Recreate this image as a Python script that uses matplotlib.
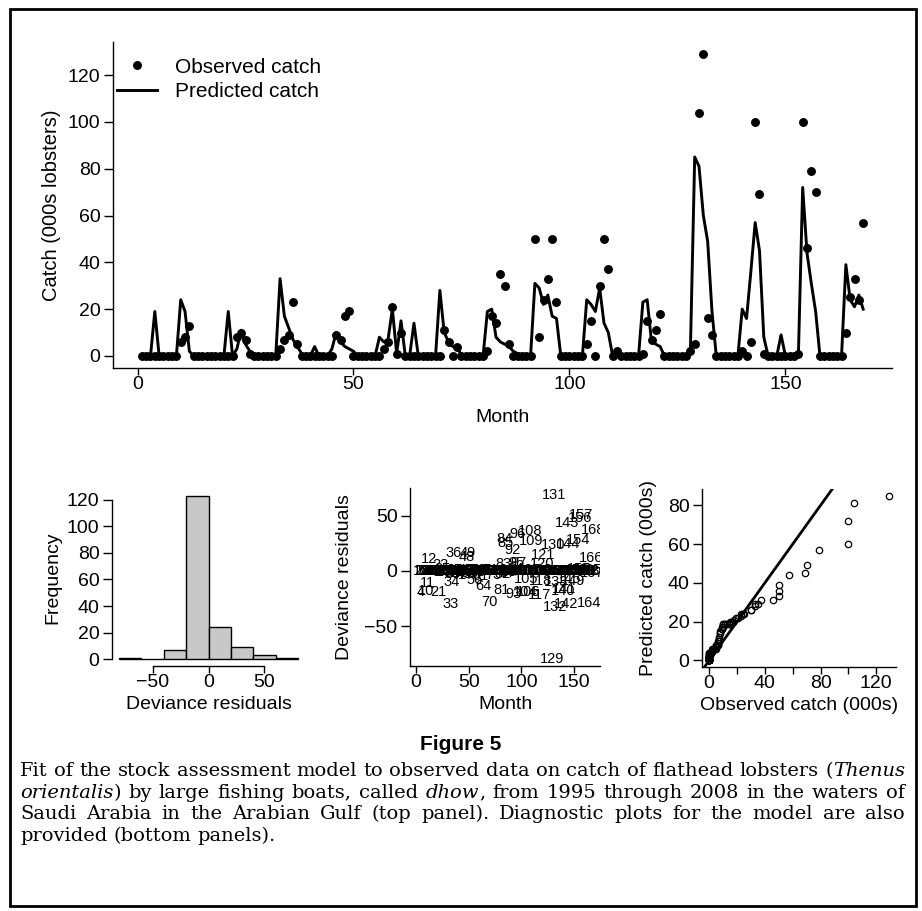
import numpy as np
import pandas as pd
import matplotlib
matplotlib.use('Agg')
import matplotlib.pyplot as plt
from matplotlib.lines import Line2D
from matplotlib.patches import Rectangle

plt.rcParams['font.family'] = ['Liberation Sans', 'DejaVu Sans']

W, H = 922, 911

# monthly catch (000s lobsters), 1995-2008, one row per year
obs_catch = [
    0, 0, 0, 0, 0, 0, 0, 0, 0, 6, 8, 13,
    0, 0, 0, 0, 0, 0, 0, 0, 0, 0, 8, 10,
    7, 1, 0, 0, 0, 0, 0, 0, 3, 7, 9, 23,
    5, 0, 0, 0, 0, 0, 0, 0, 0, 9, 7, 17,
    19, 0, 0, 0, 0, 0, 0, 0, 3, 6, 21, 1,
    10, 0, 0, 0, 0, 0, 0, 0, 0, 0, 11, 6,
    0, 4, 0, 0, 0, 0, 0, 0, 2, 17, 14, 35,
    30, 5, 0, 0, 0, 0, 0, 50, 8, 24, 33, 50,
    23, 0, 0, 0, 0, 0, 0, 5, 15, 0, 30, 50,
    37, 0, 2, 0, 0, 0, 0, 0, 1, 15, 7, 11,
    18, 0, 0, 0, 0, 0, 0, 2, 5, 104, 129, 16,
    9, 0, 0, 0, 0, 0, 0, 2, 0, 6, 100, 69,
    1, 0, 0, 0, 0, 0, 0, 0, 1, 100, 46, 79,
    70, 0, 0, 0, 0, 0, 0, 10, 25, 33, 24, 57,
]
pred_catch = [
    0, 0, 0, 19, 0, 0, 0, 0, 0, 24, 19, 2,
    0, 0, 0, 0, 0, 0, 0, 0, 19, 0, 3, 11,
    5, 2, 0, 0, 0, 0, 0, 0, 33, 17, 12, 7,
    4, 1, 0, 0, 4, 0, 0, 0, 3, 10, 6, 4,
    3, 2, 0, 0, 0, 0, 0, 8, 6, 7, 20, 1,
    15, 0, 0, 14, 0, 0, 0, 0, 0, 28, 10, 6,
    4, 4, 0, 0, 0, 0, 0, 0, 19, 20, 8, 6,
    5, 4, 2, 1, 0, 0, 0, 31, 29, 22, 26, 17,
    16, 0, 0, 0, 0, 0, 0, 24, 22, 19, 29, 14,
    10, 0, 2, 0, 0, 0, 0, 0, 23, 24, 6, 5,
    4, 0, 0, 0, 0, 0, 0, 2, 85, 81, 60, 49,
    19, 0, 0, 0, 0, 0, 0, 20, 16, 36, 57, 45,
    8, 0, 0, 0, 9, 0, 0, 0, 0, 72, 44, 31,
    19, 0, 0, 0, 0, 0, 0, 39, 24, 21, 26, 20,
]
months = np.arange(1, len(obs_catch) + 1)
hist_breaks = [-80, -60, -40, -20, 0, 20, 40, 60, 80]

obs = np.array(obs_catch, dtype=float)
pred = np.array(pred_catch, dtype=float)
resid = obs - pred

caption_lines = [
    "Fit of the stock assessment model to observed data on catch of flathead lobsters (*Thenus*",
    "*orientalis*) by large fishing boats, called *dhow*, from 1995 through 2008 in the waters of",
    "Saudi Arabia in the Arabian Gulf (top panel). Diagnostic plots for the model are also",
    "provided (bottom panels).",
]

FS = 14


def padded(lo, hi):
    d = 0.04 * (hi - lo)
    return lo - d, hi + d


def add_ax(l, t, r, b):
    return fig.add_axes([l / W, 1 - b / H, (r - l) / W, (b - t) / H])


def r_style(ax):
    for s in ['top', 'right']:
        ax.spines[s].set_visible(False)
    for s in ['left', 'bottom']:
        ax.spines[s].set_linewidth(1.0)
    ax.tick_params(direction='out', width=1.0, labelsize=FS)
    ax.tick_params(axis='y', length=6.5, pad=2.5)
    ax.tick_params(axis='x', length=5, pad=0.5)
    ax.patch.set_visible(False)


fig = plt.figure(figsize=(W / 100, H / 100), dpi=100)

# ---- top panel: observed and predicted catch
ax = add_ax(113, 42, 892, 368)
ax.plot(months, pred, '-', color='k', lw=2.1, zorder=2)
ax.plot(months, obs, 'o', color='k', ms=5.4, zorder=3)
ax.set_xlim(padded(months.min(), months.max()))
ax.set_ylim(padded(0, obs.max()))
ax.set_xticks([0, 50, 100, 150])
ax.set_yticks(np.arange(0, 121, 20))
r_style(ax)
ax.set_xlabel('Month', fontsize=FS, labelpad=12)
ax.set_ylabel('Catch (000s lobsters)', fontsize=FS + 0.5, labelpad=5)
handles = [Line2D([], [], ls='none', marker='o', color='k', ms=5.4),
           Line2D([], [], ls='-', color='k', lw=2.1)]
ax.legend(handles, ['Observed catch', 'Predicted catch'], loc='upper left',
          bbox_to_anchor=(-0.0105, 0.99), frameon=False, fontsize=15,
          handlelength=1.9, handletextpad=0.86, labelspacing=0.25, borderaxespad=0.2)

# ---- histogram of deviance residuals (right-closed bins)
counts = pd.Series(pd.cut(resid, bins=hist_breaks, right=True,
                          include_lowest=True)).value_counts(sort=False)
edges = np.array(hist_breaks, dtype=float)
ax1 = add_ax(112, 489, 305, 666)
ax1.bar(edges[:-1], counts.values, width=np.diff(edges), align='edge',
        color='#c8c8c8', edgecolor='k', linewidth=1.0)
ax1.set_xlim(padded(edges[0], edges[-1]))
ax1.set_ylim(padded(0, counts.max()))
ax1.set_xticks([-50, 0, 50])
ax1.set_xticklabels(['\u221250', '0', '50'])
ax1.set_yticks(np.arange(0, 121, 20))
r_style(ax1)
ax1.spines['left'].set_bounds(0, 120)
ax1.spines['bottom'].set_bounds(-50, 50)
ax1.set_xlabel('Deviance residuals', fontsize=FS, labelpad=4)
ax1.set_ylabel('Frequency', fontsize=FS, labelpad=4)

# ---- residuals by month, labelled with the month number
ax2 = add_ax(410, 488, 600, 666)
ax2.set_xlim(padded(months.min(), months.max()))
ax2.set_ylim(padded(resid.min(), resid.max()))
for m, r in zip(months, resid):
    ax2.text(m, r, str(m), ha='center', va='center', fontsize=10.5, clip_on=True)
ax2.set_xticks([0, 50, 100, 150])
ax2.set_yticks([-50, 0, 50])
ax2.set_yticklabels(['\u221250', '0', '50'])
r_style(ax2)
ax2.set_xlabel('Month', fontsize=FS, labelpad=4)
ax2.set_ylabel('Deviance residuals', fontsize=FS, labelpad=8.5)

# ---- quantiles of predicted vs observed catch
ax3 = add_ax(702, 489, 896, 667)
ax3.plot(np.sort(obs), np.sort(pred), 'o', mfc='none', mec='k', ms=4.6, mew=0.9)
ax3.set_xlim(padded(0, obs.max()))
ax3.set_ylim(padded(0, pred.max()))
ax3.axline((0, 0), slope=1, color='k', lw=2.0)
ax3.set_xticks(np.arange(0, 121, 20))
ax3.set_xticklabels(['0', '', '40', '', '80', '', '120'])
ax3.set_yticks(np.arange(0, 81, 20))
r_style(ax3)
ax3.set_xlabel('Observed catch (000s)', fontsize=FS, labelpad=4)
ax3.set_ylabel('Predicted catch (000s)', fontsize=FS, labelpad=8)

# ---- figure title and justified caption
fig.text(461 / W, 1 - 744 / H, 'Figure 5', ha='center', va='center',
         fontsize=15, fontweight='bold', family=['Liberation Sans', 'DejaVu Sans'])

cap_family = ['DejaVu Serif']
cap_fs = 14
renderer = fig.canvas.get_renderer()


def text_width(s, style):
    t = fig.text(0, 0, s, fontsize=cap_fs, family=cap_family, style=style)
    w = t.get_window_extent(renderer).width
    t.remove()
    return w


def split_word(word):
    parts = word.split('*')
    out = []
    for i, p in enumerate(parts):
        if p:
            out.append((p, 'italic' if i % 2 == 1 else 'normal'))
    return out


x0, x1 = 20, 905
y0, dy = 776, 21.7
for k, line in enumerate(caption_lines):
    words = [split_word(w) for w in line.split(' ')]
    widths = [sum(text_width(p, s) for p, s in w) for w in words]
    if k < len(caption_lines) - 1:
        gap = (x1 - x0 - sum(widths)) / (len(words) - 1)
    else:
        gap = text_width('a a', 'normal') - text_width('aa', 'normal')
    x = x0
    y = y0 + k * dy
    for w, wd in zip(words, widths):
        px = x
        for p, s in w:
            fig.text(px / W, 1 - y / H, p, fontsize=cap_fs, family=cap_family,
                     style=s, ha='left', va='baseline')
            px += text_width(p, s)
        x += wd + gap

fig.patches.append(Rectangle((10 / W, 5 / H), (916 - 10) / W, (904 - 7) / H,
                             transform=fig.transFigure, fill=False, lw=2.0, ec='k'))

fig.savefig('out.png', dpi=100)
